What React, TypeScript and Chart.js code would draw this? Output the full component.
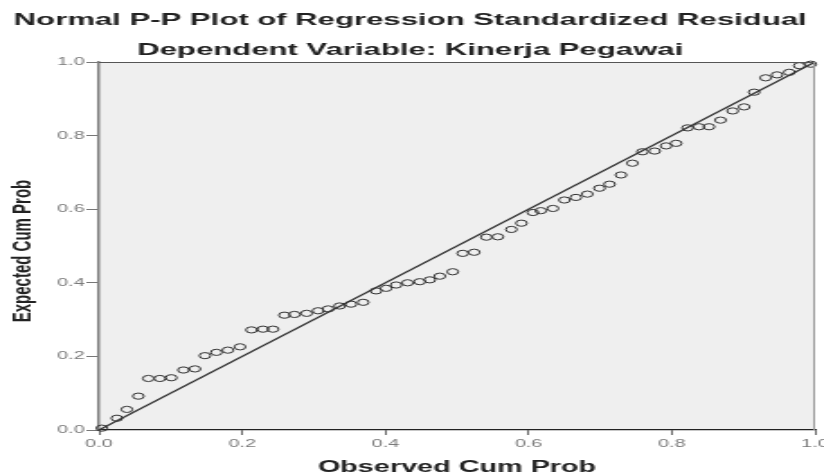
import React, { useEffect, useRef } from "react";
import { Chart, registerables } from "chart.js";

Chart.register(...registerables);

const TITLE = "Normal P-P Plot of Regression Standardized Residual";
const SUBTITLE = "Dependent Variable: Kinerja Pegawai";
const X_TITLE = "Observed Cum Prob";
const Y_TITLE = "Expected Cum Prob";
const TICKS = [0, 0.2, 0.4, 0.6, 0.8, 1.0];

const observedCumProb = [
  0.004, 0.025, 0.039, 0.055, 0.069, 0.085, 0.101, 0.118, 0.134, 0.148,
  0.164, 0.18, 0.197, 0.213, 0.229, 0.243, 0.259, 0.273, 0.29, 0.306,
  0.32, 0.336, 0.352, 0.369, 0.387, 0.401, 0.415, 0.431, 0.448, 0.462,
  0.476, 0.494, 0.508, 0.524, 0.541, 0.557, 0.576, 0.59, 0.606, 0.617,
  0.634, 0.65, 0.666, 0.682, 0.699, 0.713, 0.729, 0.745, 0.759, 0.776,
  0.792, 0.806, 0.822, 0.838, 0.852, 0.868, 0.885, 0.901, 0.915, 0.931,
  0.947, 0.964, 0.978, 0.994,
];
const expectedCumProb = [
  0.005, 0.032, 0.056, 0.092, 0.14, 0.14, 0.142, 0.163, 0.166, 0.202,
  0.211, 0.217, 0.226, 0.272, 0.274, 0.274, 0.312, 0.314, 0.317, 0.324,
  0.329, 0.337, 0.342, 0.347, 0.378, 0.385, 0.394, 0.4, 0.403, 0.408,
  0.418, 0.43, 0.48, 0.483, 0.524, 0.525, 0.545, 0.562, 0.591, 0.596,
  0.602, 0.625, 0.632, 0.641, 0.657, 0.668, 0.693, 0.725, 0.756, 0.758,
  0.772, 0.779, 0.821, 0.824, 0.824, 0.842, 0.867, 0.878, 0.918, 0.957,
  0.965, 0.972, 0.99, 0.994,
];
const refLineX = [0, 1];
const refLineY = [0, 1];

const FONT = '"Liberation Sans", Arial, sans-serif';

const decor = {
  id: "decor",
  beforeDraw(chart: any) {
    const { ctx, chartArea: a, width, height } = chart;
    ctx.save();
    ctx.fillStyle = "#ffffff";
    ctx.fillRect(0, 0, width, height);
    ctx.fillStyle = "#efefef";
    ctx.fillRect(a.left, a.top, a.right - a.left, a.bottom - a.top);
    ctx.restore();
  },
  afterDraw(chart: any) {
    const { ctx, chartArea: a, width } = chart;
    ctx.save();
    ctx.strokeStyle = "#555";
    ctx.lineWidth = 1;
    ctx.beginPath();
    ctx.moveTo(a.left, a.top + 0.5);
    ctx.lineTo(a.right, a.top + 0.5);
    ctx.stroke();
    ctx.strokeStyle = "#999";
    ctx.beginPath();
    ctx.moveTo(a.right - 0.5, a.top);
    ctx.lineTo(a.right - 0.5, a.bottom);
    ctx.stroke();

    ctx.fillStyle = "#222";
    ctx.textAlign = "center";
    ctx.textBaseline = "alphabetic";
    ctx.font = `bold 17.3px ${FONT}`;
    ctx.fillText(TITLE, width / 2 - 1, 25);
    ctx.fillText(SUBTITLE, width / 2 - 1, 55);
    ctx.font = `bold 16px ${FONT}`;
    ctx.fillText(X_TITLE, (a.left + a.right) / 2, 472);
    ctx.translate(12.8, 251);
    ctx.rotate(-Math.PI / 2);
    ctx.textBaseline = "middle";
    ctx.font = `bold 15px ${FONT}`;
    ctx.fillText(Y_TITLE, 0, 0);
    ctx.restore();
  },
};

export default function App() {
  const ref = useRef<HTMLCanvasElement | null>(null);

  useEffect(() => {
    const canvas = ref.current;
    if (!canvas) return;
    const points = observedCumProb.map((x, i) => ({ x, y: expectedCumProb[i] }));
    const line = refLineX.map((x, i) => ({ x, y: refLineY[i] }));
    const tickFont = { family: FONT, size: 11 };
    const chart = new Chart(canvas, {
      type: "scatter",
      data: {
        datasets: [
          {
            data: points,
            pointStyle: "circle",
            pointRadius: 3.1,
            pointBorderWidth: 1,
            borderColor: "#333",
            pointBorderColor: "#333",
            backgroundColor: "rgba(0,0,0,0)",
            pointBackgroundColor: "rgba(0,0,0,0)",
            showLine: false,
            clip: false,
          } as any,
          {
            data: line,
            showLine: true,
            borderColor: "#333",
            borderWidth: 1.2,
            pointRadius: 0,
            clip: false,
          } as any,
        ],
      },
      options: {
        animation: false,
        responsive: false,
        devicePixelRatio: 1,
        layout: { padding: { left: 0, right: 4.4, top: 62, bottom: 0 } },
        plugins: {
          legend: { display: false },
          title: { display: false },
          tooltip: { enabled: false },
        },
        events: [],
        scales: {
          x: {
            type: "linear",
            min: 0,
            max: 1,
            afterBuildTicks: (s: any) => {
              s.ticks = TICKS.map((v) => ({ value: v }));
            },
            afterFit: (s: any) => {
              s.height = 44;
              s.paddingLeft = 0;
              s.paddingRight = 0;
            },
            ticks: {
              callback: (v: any) => Number(v).toFixed(1),
              color: "#7a7a7a",
              font: tickFont,
              padding: 2,
              maxRotation: 0,
              autoSkip: false,
            },
            grid: {
              display: true,
              drawOnChartArea: false,
              drawTicks: true,
              tickLength: 5,
              tickColor: "#666",
              color: "#666",
            },
            border: { display: true, color: "#222", width: 1.2 },
          },
          y: {
            type: "linear",
            min: 0,
            max: 1,
            afterBuildTicks: (s: any) => {
              s.ticks = TICKS.map((v) => ({ value: v }));
            },
            afterFit: (s: any) => {
              s.width = 55;
            },
            ticks: {
              callback: (v: any) => Number(v).toFixed(1),
              color: "#7a7a7a",
              font: tickFont,
              padding: 1,
              autoSkip: false,
            },
            grid: {
              display: true,
              drawOnChartArea: false,
              drawTicks: true,
              tickLength: 7,
              tickColor: "#777",
              color: "#777",
            },
            border: { display: true, color: "#808080", width: 1.5 },
          },
        },
      } as any,
      plugins: [decor],
    });
    return () => chart.destroy();
  }, []);

  return (
    <div
      style={{
        position: "fixed",
        left: 0,
        top: 0,
        width: 824,
        height: 474,
        background: "#fff",
        overflow: "hidden",
      }}
    >
      <canvas
        ref={ref}
        width={458}
        height={474}
        style={{ width: "824px", height: "474px", display: "block" }}
      />
    </div>
  );
}
